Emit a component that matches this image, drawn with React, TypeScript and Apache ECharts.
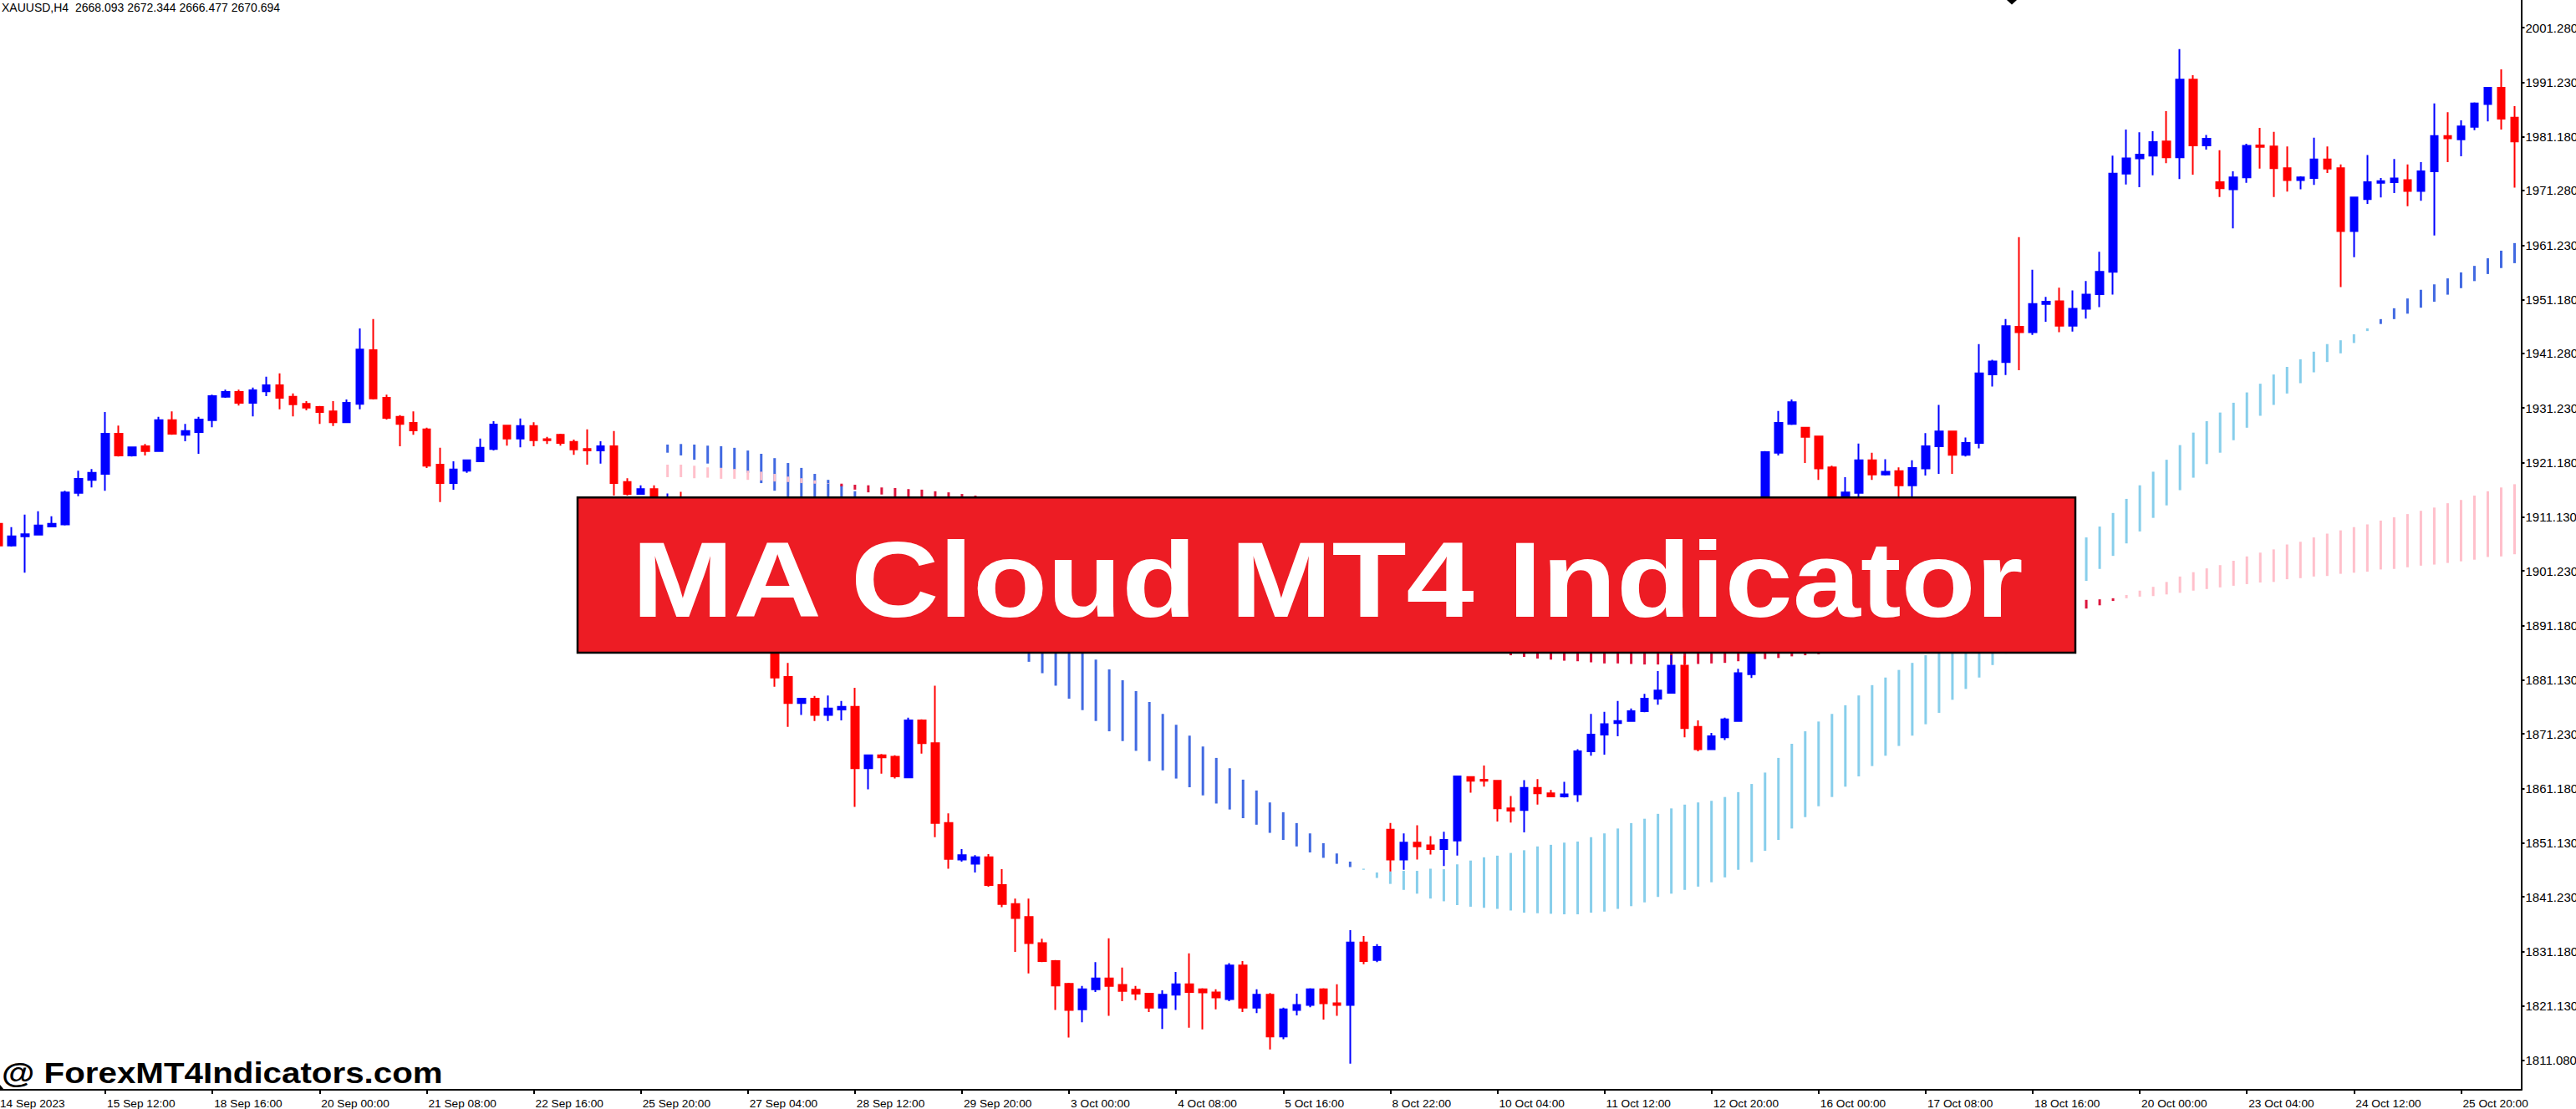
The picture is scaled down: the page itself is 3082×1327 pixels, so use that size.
import React, { useEffect, useRef } from 'react';
import * as echarts from 'echarts';

// XAUUSD H4, one label every 8 bars
const xTickLabels = [
  '14 Sep 2023', '15 Sep 12:00', '18 Sep 16:00', '20 Sep 00:00', '21 Sep 08:00', '22 Sep 16:00',
  '25 Sep 20:00', '27 Sep 04:00', '28 Sep 12:00', '29 Sep 20:00', '3 Oct 00:00', '4 Oct 08:00',
  '5 Oct 16:00', '8 Oct 22:00', '10 Oct 04:00', '11 Oct 12:00', '12 Oct 20:00', '16 Oct 00:00',
  '17 Oct 08:00', '18 Oct 16:00', '20 Oct 00:00', '23 Oct 04:00', '24 Oct 12:00', '25 Oct 20:00',
];
const barsPerLabel = 8;

const yTickValues = [
  2001.28, 1991.23, 1981.18, 1971.28, 1961.23, 1951.18, 1941.28, 1931.23, 1921.18, 1911.13,
  1901.23, 1891.18, 1881.13, 1871.23, 1861.18, 1851.13, 1841.23, 1831.18, 1821.13, 1811.08,
];
const priceMin = 1805.69;
const priceMax = 2006.36;

const opens = [
  1909.9, 1905.9, 1907.6, 1907.9, 1909.4, 1909.8, 1915.6, 1918.0, 1919.1, 1926.5,
  1922.5, 1924.2, 1923.3, 1929.0, 1926.3, 1926.8, 1929.0, 1933.3, 1934.2, 1932.2,
  1934.3, 1935.4, 1933.3, 1932.0, 1931.4, 1930.6, 1928.6, 1932.0, 1941.9, 1933.1,
  1929.6, 1928.5, 1927.3, 1920.8, 1917.4, 1919.7, 1921.4, 1923.7, 1928.0, 1925.6,
  1927.9, 1925.5, 1926.3, 1925.0, 1923.7, 1923.4, 1924.2, 1917.6, 1915.4, 1916.3,
  1912.0, 1913.5, 1910.2, 1906.5, 1907.8, 1901.0, 1896.2, 1897.5, 1890.0, 1881.7,
  1876.9, 1877.7, 1874.7, 1875.7, 1876.2, 1864.9, 1867.3, 1867.0, 1863.2, 1873.7,
  1869.5, 1854.8, 1848.1, 1847.3, 1848.5, 1843.4, 1839.9, 1837.5, 1832.7, 1829.4,
  1825.2, 1820.5, 1824.2, 1826.2, 1825.0, 1824.1, 1823.4, 1820.8, 1823.2, 1825.1,
  1824.2, 1823.6, 1822.4, 1828.6, 1820.8, 1823.2, 1815.5, 1820.4, 1821.3, 1824.2,
  1821.6, 1821.3, 1832.8, 1829.6, 1853.6, 1848.1, 1851.2, 1850.7, 1850.0, 1851.6,
  1863.3, 1862.8, 1862.6, 1857.5, 1857.2, 1861.3, 1860.3, 1859.7, 1860.1, 1868.0,
  1871.1, 1873.2, 1873.6, 1875.4, 1877.7, 1878.8, 1883.8, 1872.5, 1868.4, 1870.6,
  1873.6, 1882.2, 1900.5, 1923.0, 1928.3, 1927.6, 1926.0, 1920.3, 1913.6, 1915.6,
  1921.6, 1919.0, 1919.6, 1917.0, 1920.1, 1924.2, 1926.9, 1922.6, 1924.8, 1937.4,
  1939.7, 1946.2, 1945.2, 1950.4, 1950.9, 1946.4, 1949.5, 1952.2, 1956.3, 1974.4,
  1977.2, 1977.7, 1980.3, 1977.4, 1991.7, 1979.6, 1972.8, 1971.5, 1973.7, 1979.6,
  1979.4, 1975.4, 1973.2, 1973.6, 1977.0, 1975.4, 1963.8, 1969.7, 1972.7, 1972.8,
  1973.2, 1971.2, 1974.8, 1981.3, 1980.7, 1983.0, 1987.2, 1990.2, 1984.7,
];

const closes = [
  1905.9, 1907.6, 1908.0, 1909.6, 1909.9, 1915.7, 1918.2, 1919.3, 1926.5, 1922.5,
  1924.0, 1923.3, 1929.0, 1926.5, 1927.0, 1929.1, 1933.4, 1934.2, 1932.2, 1934.5,
  1935.4, 1933.1, 1931.9, 1931.3, 1930.5, 1928.6, 1932.2, 1942.0, 1933.0, 1929.4,
  1928.3, 1927.1, 1920.6, 1917.4, 1919.9, 1921.6, 1923.9, 1928.2, 1925.6, 1927.9,
  1925.3, 1925.3, 1924.8, 1923.6, 1923.4, 1924.2, 1917.4, 1915.4, 1916.3, 1912.0,
  1913.5, 1910.2, 1906.5, 1907.8, 1901.0, 1896.2, 1897.5, 1890.0, 1881.6, 1876.9,
  1877.7, 1874.7, 1875.9, 1876.2, 1864.9, 1867.3, 1866.9, 1863.4, 1873.7, 1869.5,
  1854.8, 1848.2, 1848.9, 1848.5, 1843.4, 1839.9, 1837.3, 1832.7, 1829.4, 1824.9,
  1820.4, 1824.2, 1826.2, 1824.8, 1823.9, 1823.4, 1820.8, 1823.2, 1825.1, 1823.7,
  1823.6, 1822.7, 1828.6, 1820.8, 1823.2, 1815.5, 1820.5, 1821.3, 1824.2, 1821.6,
  1821.3, 1832.8, 1829.4, 1832.0, 1848.1, 1851.2, 1850.5, 1850.0, 1851.7, 1863.4,
  1862.6, 1862.6, 1857.5, 1857.1, 1861.3, 1860.3, 1859.7, 1860.1, 1868.0, 1871.1,
  1873.0, 1873.6, 1875.4, 1877.7, 1879.2, 1883.8, 1872.3, 1868.4, 1870.8, 1873.9,
  1882.4, 1900.5, 1923.1, 1928.5, 1932.3, 1925.9, 1920.1, 1912.5, 1915.7, 1921.6,
  1919.0, 1919.5, 1917.0, 1920.2, 1924.2, 1926.9, 1922.6, 1924.8, 1937.6, 1939.8,
  1946.3, 1945.2, 1950.4, 1950.8, 1946.4, 1949.5, 1952.1, 1956.3, 1974.4, 1977.2,
  1977.9, 1980.2, 1977.4, 1991.7, 1979.6, 1980.8, 1971.7, 1973.7, 1979.5, 1979.3,
  1975.4, 1973.2, 1973.7, 1977.0, 1975.3, 1963.8, 1970.0, 1972.8, 1973.0, 1973.5,
  1971.2, 1974.8, 1981.3, 1980.9, 1983.1, 1987.3, 1990.2, 1984.5, 1980.3,
];

const lows = [
  1905.6, 1905.7, 1900.9, 1907.8, 1909.3, 1909.6, 1915.0, 1916.6, 1916.0, 1922.3,
  1922.3, 1922.5, 1923.2, 1926.3, 1925.1, 1922.8, 1927.7, 1933.1, 1931.7, 1929.7,
  1933.4, 1931.0, 1929.7, 1930.8, 1928.3, 1927.9, 1928.5, 1931.0, 1932.8, 1929.1,
  1924.2, 1926.3, 1920.2, 1913.9, 1916.2, 1919.3, 1921.3, 1923.4, 1924.3, 1924.0,
  1924.2, 1924.6, 1924.3, 1922.6, 1920.8, 1921.0, 1915.1, 1915.1, 1915.3, 1910.8,
  1910.5, 1909.0, 1905.2, 1904.0, 1899.8, 1894.5, 1892.0, 1888.6, 1879.9, 1872.5,
  1874.7, 1873.6, 1873.6, 1873.7, 1857.8, 1861.0, 1863.9, 1863.0, 1863.1, 1867.6,
  1852.2, 1846.4, 1847.7, 1845.7, 1843.1, 1839.3, 1831.1, 1827.1, 1829.2, 1820.4,
  1815.3, 1818.1, 1823.7, 1819.3, 1822.0, 1822.2, 1820.0, 1816.9, 1820.4, 1817.1,
  1816.8, 1820.5, 1822.0, 1820.0, 1819.8, 1813.1, 1815.0, 1819.4, 1820.9, 1818.6,
  1819.3, 1810.5, 1828.8, 1829.2, 1845.9, 1846.2, 1848.1, 1849.0, 1846.9, 1848.8,
  1860.4, 1861.5, 1855.1, 1854.9, 1853.1, 1858.2, 1859.6, 1859.5, 1858.7, 1867.2,
  1867.4, 1870.8, 1873.5, 1875.2, 1876.6, 1878.7, 1870.6, 1868.0, 1868.3, 1870.1,
  1873.5, 1881.5, 1899.0, 1922.5, 1928.1, 1921.1, 1918.0, 1911.7, 1912.2, 1914.3,
  1918.0, 1918.8, 1914.6, 1914.9, 1918.8, 1919.1, 1919.1, 1922.3, 1923.8, 1935.2,
  1937.3, 1938.2, 1944.7, 1947.1, 1945.2, 1945.3, 1947.7, 1949.8, 1952.1, 1972.4,
  1971.9, 1974.1, 1976.3, 1973.4, 1974.2, 1978.8, 1970.1, 1964.3, 1972.7, 1975.3,
  1970.1, 1971.1, 1971.5, 1972.3, 1974.5, 1953.5, 1959.0, 1968.8, 1970.0, 1970.8,
  1968.4, 1969.4, 1963.0, 1976.5, 1977.6, 1982.4, 1984.0, 1982.5, 1971.8,
];

const highs = [
  1910.3, 1909.3, 1911.6, 1912.2, 1911.3, 1916.0, 1919.7, 1920.0, 1930.5, 1928.0,
  1924.1, 1924.6, 1929.6, 1930.6, 1928.3, 1929.6, 1933.7, 1934.6, 1934.6, 1935.0,
  1937.0, 1937.6, 1933.9, 1932.5, 1931.6, 1932.5, 1932.8, 1945.9, 1947.6, 1933.7,
  1929.9, 1930.6, 1927.6, 1923.9, 1921.4, 1921.7, 1925.6, 1928.8, 1928.1, 1929.3,
  1928.6, 1925.9, 1926.5, 1925.4, 1927.3, 1925.1, 1927.0, 1918.3, 1917.0, 1917.0,
  1915.5, 1915.8, 1911.0, 1909.2, 1908.5, 1902.4, 1899.0, 1898.2, 1890.6, 1884.3,
  1877.8, 1878.2, 1878.3, 1877.3, 1879.7, 1867.4, 1867.5, 1867.3, 1874.2, 1873.9,
  1880.1, 1856.6, 1850.0, 1848.9, 1849.1, 1846.3, 1840.9, 1840.9, 1833.5, 1829.6,
  1825.4, 1824.8, 1829.2, 1833.6, 1828.2, 1824.8, 1823.5, 1824.0, 1827.4, 1830.8,
  1824.4, 1824.2, 1829.0, 1829.4, 1824.2, 1823.5, 1820.8, 1823.4, 1824.4, 1824.4,
  1825.1, 1835.1, 1834.0, 1832.5, 1854.8, 1852.9, 1854.4, 1852.4, 1853.2, 1863.5,
  1863.4, 1865.4, 1862.7, 1859.8, 1862.7, 1862.9, 1860.9, 1862.4, 1868.4, 1874.9,
  1875.3, 1877.3, 1875.9, 1878.6, 1882.8, 1885.7, 1885.6, 1873.7, 1871.4, 1874.2,
  1883.2, 1901.8, 1923.3, 1930.7, 1932.8, 1927.7, 1926.1, 1920.6, 1918.5, 1924.7,
  1923.0, 1921.8, 1920.3, 1921.6, 1926.6, 1931.8, 1927.0, 1925.8, 1943.0, 1940.1,
  1947.6, 1962.7, 1956.7, 1951.7, 1953.4, 1952.9, 1954.6, 1960.0, 1977.7, 1982.5,
  1982.0, 1982.2, 1985.9, 1997.3, 1992.5, 1981.5, 1978.7, 1974.8, 1979.9, 1982.8,
  1982.1, 1979.4, 1973.9, 1981.0, 1979.4, 1976.1, 1970.1, 1977.8, 1973.6, 1977.1,
  1976.1, 1976.5, 1987.3, 1985.7, 1984.2, 1987.5, 1990.3, 1993.6, 1986.8,
];

// MA cloud buffers, drawn from bar 50 on
const cloudStart = 50;

const blueLineA = [
  1924.5, 1924.6, 1924.5, 1924.3, 1924.2, 1923.9, 1923.4, 1922.8, 1922.0, 1921.1,
  1920.2, 1919.1, 1918.0, 1917.0, 1915.9, 1914.2, 1912.5, 1910.8, 1909.1, 1907.4,
  1905.6, 1903.9, 1902.2, 1900.5, 1898.8, 1896.9, 1895.2, 1893.6, 1891.9, 1890.2,
  1888.5, 1886.8, 1884.9, 1883.1, 1881.1, 1879.1, 1877.1, 1874.9, 1872.9, 1870.9,
  1868.9, 1866.8, 1864.9, 1862.8, 1860.8, 1858.6, 1856.8, 1854.8, 1852.9, 1851.1,
  1849.2, 1847.7, 1846.2, 1844.7, 1843.6, 1842.5, 1841.8, 1840.9, 1840.4, 1839.7,
  1839.4, 1839.2, 1839.0, 1838.7, 1838.3, 1838.2, 1838.1, 1838.0, 1838.0, 1838.3,
  1838.5, 1839.0, 1839.5, 1840.2, 1841.2, 1841.8, 1842.5, 1843.1, 1843.9, 1844.8,
  1846.2, 1847.6, 1849.7, 1851.7, 1853.8, 1855.9, 1857.9, 1859.6, 1861.5, 1863.4,
  1865.3, 1867.2, 1869.0, 1870.9, 1873.0, 1875.1, 1877.5, 1879.5, 1881.6, 1883.9,
  1886.0, 1888.2, 1890.5, 1892.6, 1894.9, 1897.2, 1899.4, 1901.6, 1904.0, 1906.3,
  1908.5, 1911.0, 1913.3, 1916.1, 1918.4, 1920.9, 1923.0, 1925.3, 1927.6, 1929.8,
  1931.8, 1933.9, 1935.8, 1937.8, 1939.7, 1941.3, 1943.2, 1945.4, 1947.6, 1949.6,
  1951.4, 1953.0, 1954.0, 1955.1, 1956.2, 1957.4, 1958.8, 1960.2, 1961.6,
];

const blueLineB = [
  1923.0, 1922.5, 1921.7, 1921.0, 1920.2, 1919.9, 1919.3, 1917.4, 1916.0, 1914.5,
  1913.0, 1911.3, 1909.7, 1908.0, 1906.3, 1904.6, 1903.0, 1901.2, 1899.6, 1897.9,
  1896.2, 1894.5, 1892.8, 1891.1, 1889.4, 1887.9, 1886.5, 1884.5, 1882.4, 1880.1,
  1877.7, 1875.6, 1873.6, 1871.7, 1869.9, 1868.1, 1866.2, 1864.5, 1863.0, 1861.4,
  1859.9, 1858.4, 1857.3, 1855.7, 1854.5, 1853.0, 1851.7, 1850.5, 1849.4, 1848.4,
  1847.3, 1846.7, 1846.4, 1845.7, 1845.9, 1846.0, 1846.0, 1846.4, 1846.3, 1847.2,
  1847.9, 1848.5, 1848.8, 1849.3, 1849.8, 1850.5, 1850.8, 1851.2, 1851.4, 1852.2,
  1852.9, 1853.8, 1854.8, 1855.6, 1856.5, 1857.5, 1858.2, 1858.6, 1858.9, 1859.6,
  1860.5, 1862.0, 1864.1, 1866.8, 1869.4, 1871.7, 1873.5, 1874.9, 1876.5, 1878.3,
  1880.2, 1881.6, 1883.0, 1884.3, 1885.7, 1887.6, 1889.4, 1891.2, 1892.9, 1894.8,
  1896.5, 1898.3, 1900.2, 1902.0, 1903.7, 1905.6, 1907.4, 1909.4, 1911.9, 1914.5,
  1917.0, 1919.5, 1921.7, 1924.4, 1926.7, 1928.8, 1930.4, 1932.2, 1934.1, 1935.7,
  1937.4, 1938.8, 1940.2, 1941.6, 1943.0, 1943.7, 1944.8, 1945.9, 1946.7, 1947.6,
  1948.6, 1949.7, 1950.8, 1952.1, 1953.3, 1954.6, 1955.9, 1957.0, 1957.9,
];

const redLineA = [
  1920.8, 1920.8, 1920.6, 1920.3, 1920.2, 1920.0, 1919.7, 1919.5, 1919.1, 1918.6,
  1918.3, 1917.9, 1917.4, 1916.8, 1916.2, 1915.7, 1915.3, 1914.6, 1913.9, 1913.1,
  1912.3, 1911.6, 1910.8, 1910.0, 1909.3, 1908.5, 1907.7, 1907.0, 1906.2, 1905.4,
  1904.6, 1903.9, 1903.1, 1902.3, 1901.6, 1900.8, 1900.0, 1899.2, 1898.5, 1897.7,
  1896.9, 1896.2, 1895.4, 1894.6, 1893.9, 1893.1, 1892.3, 1891.7, 1891.1, 1890.5,
  1889.9, 1889.2, 1888.8, 1888.3, 1887.9, 1887.6, 1887.2, 1886.9, 1886.6, 1886.4,
  1886.3, 1886.2, 1886.1, 1885.7, 1885.4, 1885.1, 1884.9, 1884.7, 1884.6, 1884.4,
  1884.2, 1884.2, 1884.1, 1884.0, 1884.0, 1884.0, 1884.0, 1884.1, 1884.2, 1884.3,
  1884.6, 1884.8, 1885.0, 1885.2, 1885.5, 1885.7, 1885.9, 1886.3, 1886.8, 1887.2,
  1887.7, 1888.2, 1888.6, 1889.1, 1889.6, 1890.0, 1890.5, 1890.9, 1891.4, 1891.9,
  1892.3, 1892.8, 1893.2, 1893.7, 1894.0, 1894.2, 1894.3, 1894.9, 1895.7, 1896.8,
  1897.6, 1898.3, 1899.2, 1900.2, 1901.0, 1901.7, 1902.3, 1903.1, 1903.9, 1904.6,
  1905.2, 1906.1, 1906.6, 1907.4, 1908.1, 1908.7, 1909.3, 1909.8, 1910.5, 1911.1,
  1911.7, 1912.3, 1912.9, 1913.7, 1914.3, 1915.1, 1915.9, 1916.6, 1917.2,
];

const redLineB = [
  1918.5, 1918.5, 1918.3, 1918.4, 1918.2, 1918.2, 1918.0, 1917.9, 1917.7, 1917.6,
  1917.4, 1917.3, 1917.3, 1917.3, 1917.1, 1917.0, 1916.6, 1916.5, 1916.3, 1916.2,
  1915.9, 1915.7, 1915.4, 1915.1, 1914.8, 1914.5, 1914.3, 1914.0, 1913.7, 1913.5,
  1913.3, 1913.0, 1912.8, 1912.6, 1912.3, 1912.1, 1911.9, 1911.6, 1911.4, 1911.2,
  1911.0, 1910.8, 1910.5, 1910.3, 1910.1, 1909.8, 1909.6, 1909.4, 1909.1, 1908.9,
  1908.7, 1908.4, 1908.2, 1908.0, 1907.8, 1907.5, 1907.3, 1907.1, 1906.8, 1906.6,
  1906.4, 1906.1, 1905.9, 1905.7, 1905.4, 1905.2, 1905.0, 1904.7, 1904.5, 1904.3,
  1904.0, 1903.8, 1903.6, 1903.3, 1903.1, 1902.9, 1902.6, 1902.4, 1902.2, 1901.9,
  1901.7, 1901.5, 1901.2, 1901.0, 1900.8, 1900.5, 1900.3, 1900.1, 1899.8, 1899.6,
  1899.4, 1899.1, 1898.9, 1898.7, 1898.4, 1898.2, 1898.0, 1897.7, 1897.5, 1897.3,
  1897.0, 1896.8, 1896.6, 1896.4, 1896.2, 1896.0, 1895.9, 1896.0, 1896.2, 1896.2,
  1896.5, 1896.6, 1896.9, 1897.2, 1897.6, 1897.9, 1898.2, 1898.5, 1898.8, 1899.1,
  1899.2, 1899.7, 1899.9, 1900.2, 1900.3, 1900.7, 1900.9, 1901.1, 1901.5, 1901.6,
  1901.9, 1902.2, 1902.4, 1902.7, 1903.0, 1903.3, 1903.8, 1903.9, 1904.3,
];

const axisFont = '"Liberation Sans", Arial, sans-serif';

const categories = opens.map((_, i) =>
  i % barsPerLabel === 0 ? xTickLabels[i / barsPerLabel] : String(i)
);

const cloudSeries = (lineA: number[], lineB: number[], colorAbove: string, colorBelow: string) => ({
  type: 'custom',
  silent: true,
  clip: true,
  data: lineA.map((a, k) => [cloudStart + k, a, lineB[k]]),
  encode: { x: 0, y: [1, 2] },
  renderItem: (_params: any, api: any) => {
    const idx = api.value(0);
    const a = api.value(1);
    const b = api.value(2);
    const p1 = api.coord([idx, a]);
    const p2 = api.coord([idx, b]);
    return {
      type: 'line',
      shape: { x1: p1[0], y1: p1[1], x2: p2[0], y2: p2[1] },
      style: { stroke: a > b ? colorAbove : colorBelow, lineWidth: 3 },
    };
  },
});

const App: React.FC = () => {
  const chartRef = useRef<HTMLDivElement>(null);

  useEffect(() => {
    if (!chartRef.current) return;
    document.body.style.margin = '0';
    const chart = echarts.init(chartRef.current, undefined, { renderer: 'svg' });

    const option: any = {
      animation: false,
      backgroundColor: '#ffffff',
      grid: {
        left: -10,
        right: 65.5,
        top: 0,
        bottom: 23,
        containLabel: false,
        outerBoundsMode: 'none',
      },
      xAxis: {
        type: 'category',
        data: categories,
        boundaryGap: true,
        axisLine: { show: true, lineStyle: { color: '#000', width: 2 } },
        axisTick: {
          show: true,
          alignWithLabel: true,
          interval: barsPerLabel - 1,
          length: 5,
          lineStyle: { color: '#000', width: 2 },
        },
        axisLabel: {
          interval: barsPerLabel - 1,
          align: 'left',
          margin: 9,
          padding: [0, 0, 0, 2],
          color: '#000',
          fontFamily: axisFont,
          fontSize: 13.7,
          hideOverlap: false,
        },
        splitLine: { show: false },
      },
      yAxis: {
        type: 'value',
        position: 'right',
        min: priceMin,
        max: priceMax,
        scale: true,
        axisLine: { show: true, lineStyle: { color: '#000', width: 2 } },
        axisTick: {
          show: true,
          length: 4,
          customValues: yTickValues,
          lineStyle: { color: '#000', width: 2 },
        },
        axisLabel: {
          customValues: yTickValues,
          formatter: (v: number) => v.toFixed(3),
          margin: 5,
          color: '#000',
          fontFamily: axisFont,
          fontSize: 15,
          showMinLabel: true,
          showMaxLabel: true,
        },
        splitLine: { show: false },
      },
      series: [
        {
          type: 'candlestick',
          silent: true,
          barWidth: 9,
          data: opens.map((o, i) => [o, closes[i], lows[i], highs[i]]),
          itemStyle: {
            color: '#0000FF',
            color0: '#FF0000',
            borderColor: '#0000FF',
            borderColor0: '#FF0000',
            borderWidth: 2,
          },
        },
        cloudSeries(blueLineA, blueLineB, '#4169E1', '#87CEEB'),
        cloudSeries(redLineA, redLineB, '#FFC0CB', '#DC143C'),
      ],
      graphic: [
        {
          type: 'text',
          x: 2,
          y: 9,
          z: 100,
          style: {
            text: 'XAUUSD,H4  2668.093 2672.344 2666.477 2670.694',
            fill: '#000',
            font: '14px "Liberation Sans", Arial, sans-serif',
            align: 'left',
            verticalAlign: 'middle',
            textAlign: 'left',
            textVerticalAlign: 'middle',
          },
        },
        {
          type: 'polygon',
          z: 100,
          shape: { points: [[2401, 0], [2413, 0], [2407, 5.5]] },
          style: { fill: '#000' },
        },
        {
          type: 'polygon',
          z: 100,
          shape: { points: [[0, 1298], [0, 1304], [5, 1304]] },
          style: { fill: '#000' },
        },
        {
          type: 'rect',
          z: 100,
          shape: { x: 691, y: 595.2, width: 1792, height: 185.8 },
          style: { fill: '#ED1C24', stroke: '#000', lineWidth: 2.5 },
        },
        {
          type: 'text',
          x: 756,
          y: 694,
          scaleX: 1.14,
          z: 101,
          style: {
            text: 'MA Cloud MT4 Indicator',
            fill: '#ffffff',
            font: 'bold 128px "Liberation Sans", Arial, sans-serif',
            align: 'left',
            verticalAlign: 'middle',
            textAlign: 'left',
            textVerticalAlign: 'middle',
          },
        },
        {
          type: 'text',
          x: 2,
          y: 1283.5,
          scaleX: 1.12,
          z: 101,
          style: {
            text: '@ ForexMT4Indicators.com',
            fill: '#000',
            font: 'bold 36px "Liberation Sans", Arial, sans-serif',
            align: 'left',
            verticalAlign: 'middle',
            textAlign: 'left',
            textVerticalAlign: 'middle',
          },
        },
      ],
    };

    chart.setOption(option);

    return () => {
      chart.dispose();
    };
  }, []);

  return (
    <div
      ref={chartRef}
      style={{ position: 'absolute', left: 0, top: 0, width: '3082px', height: '1327px', background: '#fff' }}
    />
  );
};

export default App;
